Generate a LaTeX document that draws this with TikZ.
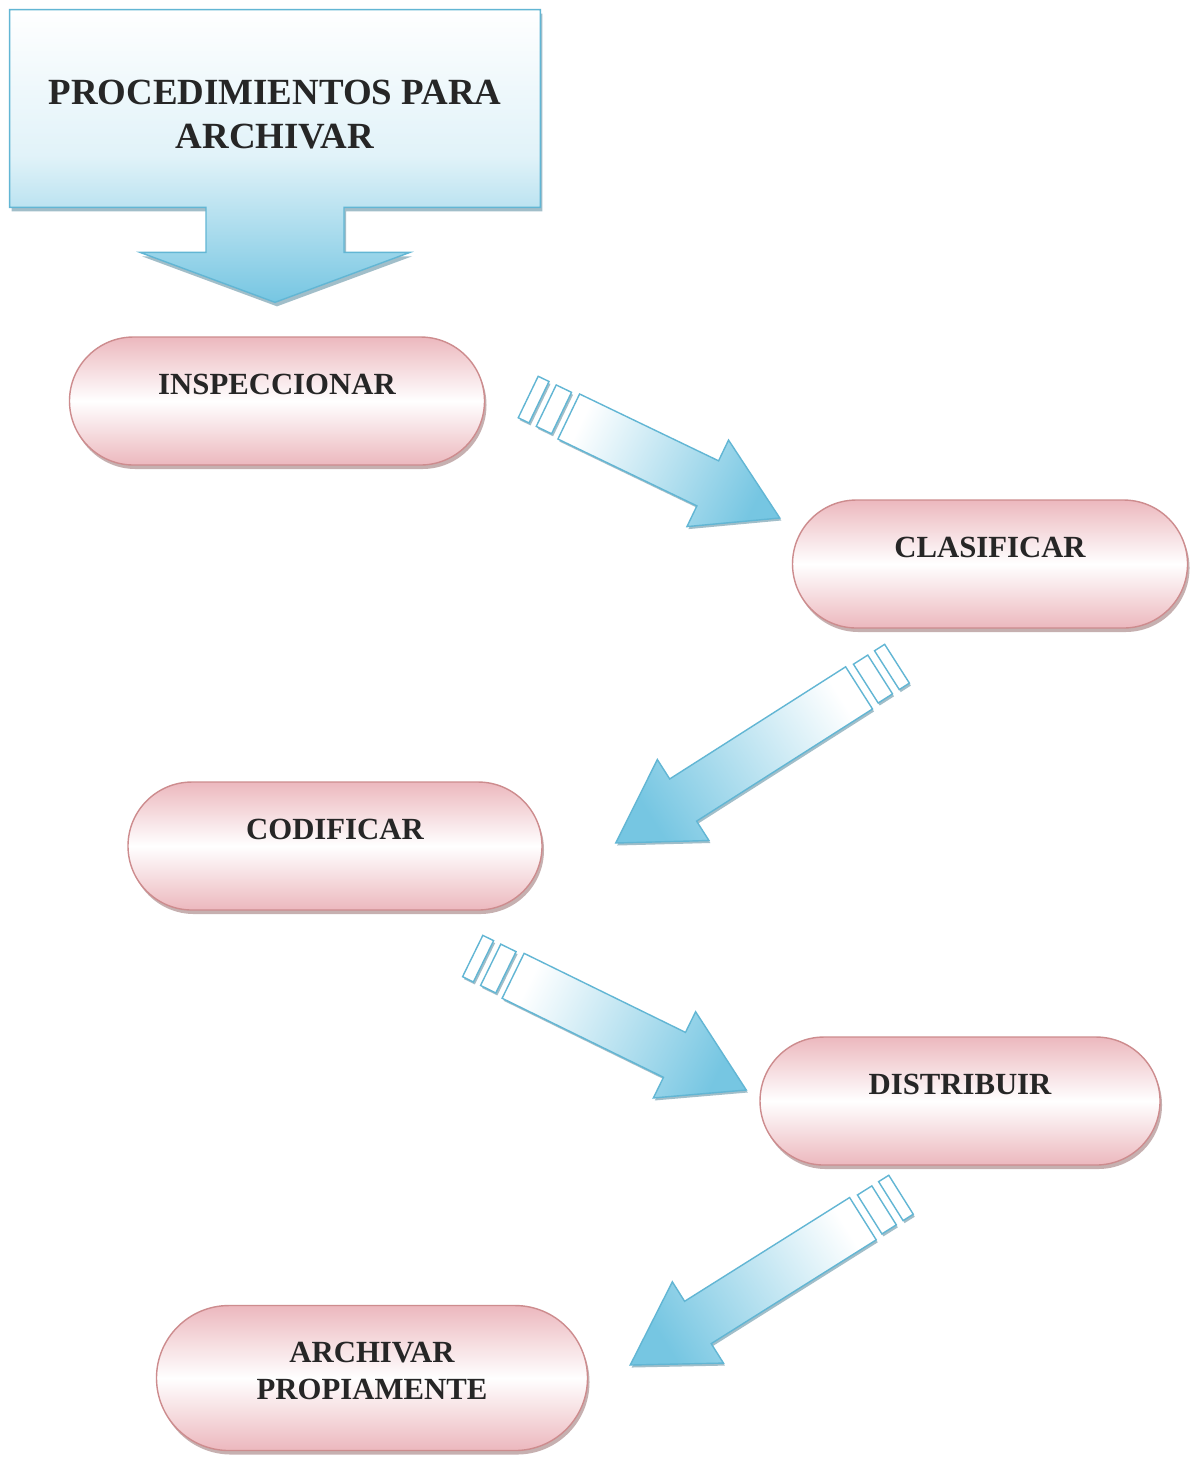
\documentclass[tikz,border=0pt]{standalone}
\usepackage{fontspec}
\setmainfont{Liberation Serif}
\usetikzlibrary{positioning, calc, shadows, backgrounds}

\definecolor{cajaazul}{RGB}{118,198,226}
\definecolor{cajaborde}{RGB}{98,182,212}
\definecolor{rosa}{RGB}{236,184,190}
\definecolor{rosaborde}{RGB}{205,140,142}
\definecolor{letra}{RGB}{38,38,38}

\tikzstyle{paso} = [rectangle, draw=rosaborde, thick, top color=rosa, bottom color=rosa,
    middle color=white, minimum height=25.6mm, rounded corners=12.8mm, text=letra,
    font=\fontsize{17.5}{21}\selectfont\bfseries, text height=4.1mm, text depth=6.8mm,
    drop shadow={shadow xshift=0.4mm, shadow yshift=-0.8mm, fill=rosaborde!70!black, opacity=0.5}]
\tikzstyle{cabecera} = [rectangle, minimum width=106mm, minimum height=39.4mm, align=center,
    text=letra, font=\fontsize{21}{24.5}\selectfont\bfseries, text height=15.8mm, text depth=0mm]
\tikzstyle{llamada} = [draw=cajaborde, thick, top color=white, bottom color=cajaazul,
    middle color=cajaazul!22,
    drop shadow={shadow xshift=0.4mm, shadow yshift=-0.8mm, fill=cajaborde!70!black, opacity=0.5}]
\tikzstyle{franja} = [draw=cajaborde, fill=white, thick,
    drop shadow={shadow xshift=0.3mm, shadow yshift=-0.5mm, fill=cajaborde!70!black, opacity=0.5}]
\tikzstyle{cuerpo} = [draw=cajaborde, thick,
    drop shadow={shadow xshift=0.3mm, shadow yshift=-0.5mm, fill=cajaborde!70!black, opacity=0.5}]

% block arrow with two stripes at the tail, from #1 to #2
\newcommand{\flechabloque}[2]{%
  \path let \p1=($(#2)-(#1)$) in \pgfextra{%
    \pgfmathsetmacro{\angflecha}{atan2(\y1,\x1)}%
    \pgfmathsetmacro{\lenflecha}{veclen(\x1,\y1)}%
    \xdef\angflecha{\angflecha}\xdef\lenflecha{\lenflecha}};
  \pgfmathsetmacro{\baseflecha}{\lenflecha-45.5}%
  \pgfmathsetmacro{\sombreado}{\angflecha-90}%
  \begin{scope}[shift={(#1)}, rotate=\angflecha]
    \draw[franja] (0mm,-4.6mm) rectangle (2.4mm,4.6mm);
    \draw[franja] (4mm,-4.6mm) rectangle (7.4mm,4.6mm);
    \draw[cuerpo, top color=cajaazul, bottom color=white, shading angle=\sombreado]
      (9mm,-5mm) -- (\baseflecha pt,-5mm) -- (\baseflecha pt,-9.6mm) -- (\lenflecha pt,0mm)
      -- (\baseflecha pt,9.6mm) -- (\baseflecha pt,5mm) -- (9mm,5mm) -- cycle;
  \end{scope}}

\begin{document}
\begin{tikzpicture}[x=0.2mm, y=-0.2mm]
\useasboundingbox (0,0) rectangle (1189,1458);

\node [cabecera] (titulo) at (275,108.5) {PROCEDIMIENTOS PARA\\ARCHIVAR};
\node [paso, minimum width=83mm, below of=titulo, node distance=58.5mm, xshift=0.4mm] (insp) {INSPECCIONAR};
\node [paso, minimum width=79mm, below of=insp, node distance=32.6mm, xshift=142.6mm] (clas) {CLASIFICAR};
\node [paso, minimum width=82.8mm, below of=clas, node distance=56.4mm, xshift=-131mm] (codif) {CODIFICAR};
\node [paso, minimum width=80mm, below of=codif, node distance=51mm, xshift=125mm] (distr) {DISTRIBUIR};
\node [paso, minimum width=86.2mm, minimum height=29mm, rounded corners=14.5mm, text height={}, text depth=2.8mm,
       align=center, below of=distr, node distance=55.4mm, xshift=-117.6mm] (arch) {ARCHIVAR\\PROPIAMENTE};

\begin{scope}[on background layer]
  \fill [white] (0,0) rectangle (1189,1458);
  \draw [llamada] (titulo.north west) -- (titulo.north east) -- (titulo.south east)
    -- ($(titulo.south)+(69,0)$) -- ++(0,45) -- ++(66,0) -- ($(titulo.south)+(0,95)$)
    -- ($(titulo.south)+(-135,45)$) -- ++(66,0) -- ($(titulo.south)+(-69,0)$)
    -- (titulo.south west) -- cycle;
\end{scope}

\coordinate (f1a) at ($(insp.east)+(43,-4)$);
\coordinate (f1b) at ($(clas.west)+(-12,-46)$);
\coordinate (f2a) at ($(clas.south)+(-93,35)$);
\coordinate (f2b) at ($(codif.east)+(73,-3)$);
\coordinate (f3a) at ($(codif.east)+(-70,110)$);
\coordinate (f3b) at ($(distr.west)+(-13,-11)$);
\coordinate (f4a) at ($(distr.south)+(-59,29)$);
\coordinate (f4b) at ($(arch.east)+(42,-13)$);

\flechabloque{f1a}{f1b}
\flechabloque{f2a}{f2b}
\flechabloque{f3a}{f3b}
\flechabloque{f4a}{f4b}

\end{tikzpicture}
\end{document}
